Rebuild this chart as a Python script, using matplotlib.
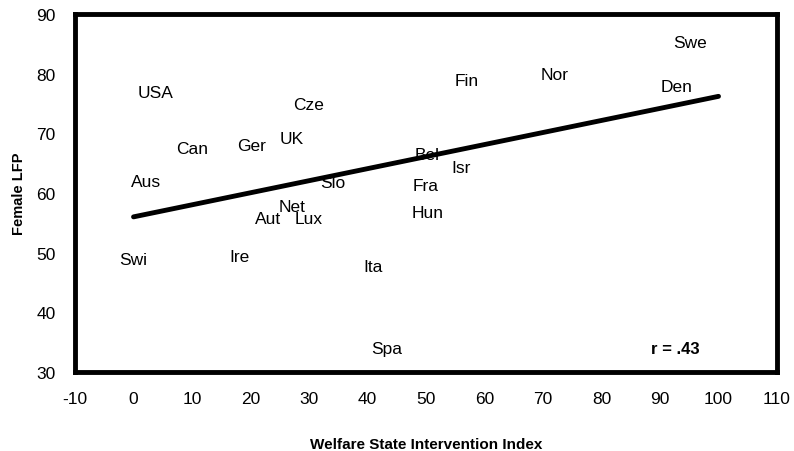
import matplotlib.pyplot as plt

plt.rcParams['font.family'] = ['Liberation Sans', 'DejaVu Sans']
plt.rcParams['axes.unicode_minus'] = False

# country labels and their positions (welfare index, female LFP)
countries = ['USA', 'Can', 'Ger', 'UK', 'Cze', 'Aus', 'Slo', 'Net', 'Aut', 'Lux',
             'Swi', 'Ire', 'Ita', 'Spa', 'Fin', 'Nor', 'Swe', 'Den', 'Bel', 'Isr',
             'Fra', 'Hun']
welfare = [3.8, 10.0, 20.1, 27.1, 30.0, 2.1, 34.1, 27.1, 23.0, 30.0,
           -0.1, 18.2, 40.9, 43.2, 57.0, 72.0, 95.1, 92.9, 50.2, 56.0,
           50.0, 50.2]
female_lfp = [76.9, 67.5, 68.0, 69.2, 74.9, 62.0, 61.7, 57.7, 55.8, 55.8,
              48.9, 49.3, 47.6, 34.0, 78.9, 79.8, 85.3, 77.9, 66.5, 64.2,
              61.3, 56.8]

# fitted line endpoints
fit_x = [0, 100]
fit_y = [56.0, 76.2]

fig = plt.figure(figsize=(7.94, 4.52), dpi=100)
ax = fig.add_axes([0.0945, 0.1748, 0.8841, 0.792])

for name, x, y in zip(countries, welfare, female_lfp):
    ax.text(x, y, name, ha='center', va='center', fontsize=12.5)

ax.plot(fit_x, fit_y, color='black', linewidth=3.5, solid_capstyle='round')

ax.text(92.7, 34.0, 'r = .43', ha='center', va='center', fontsize=12, fontweight='bold')

ax.set_xlim(-10, 110)
ax.set_ylim(30, 90)
ax.set_xticks(range(-10, 111, 10))
ax.set_yticks(range(30, 91, 10))
ax.tick_params(length=0, labelsize=12.5, pad=14)

for s in ax.spines.values():
    s.set_linewidth(3.5)
    s.set_color('black')

ax.set_xlabel('Welfare State Intervention Index', fontsize=11, fontweight='bold', labelpad=22)
ax.set_ylabel('Female LFP', fontsize=10.5, fontweight='bold', labelpad=7)

plt.savefig('out.png', dpi=100)
